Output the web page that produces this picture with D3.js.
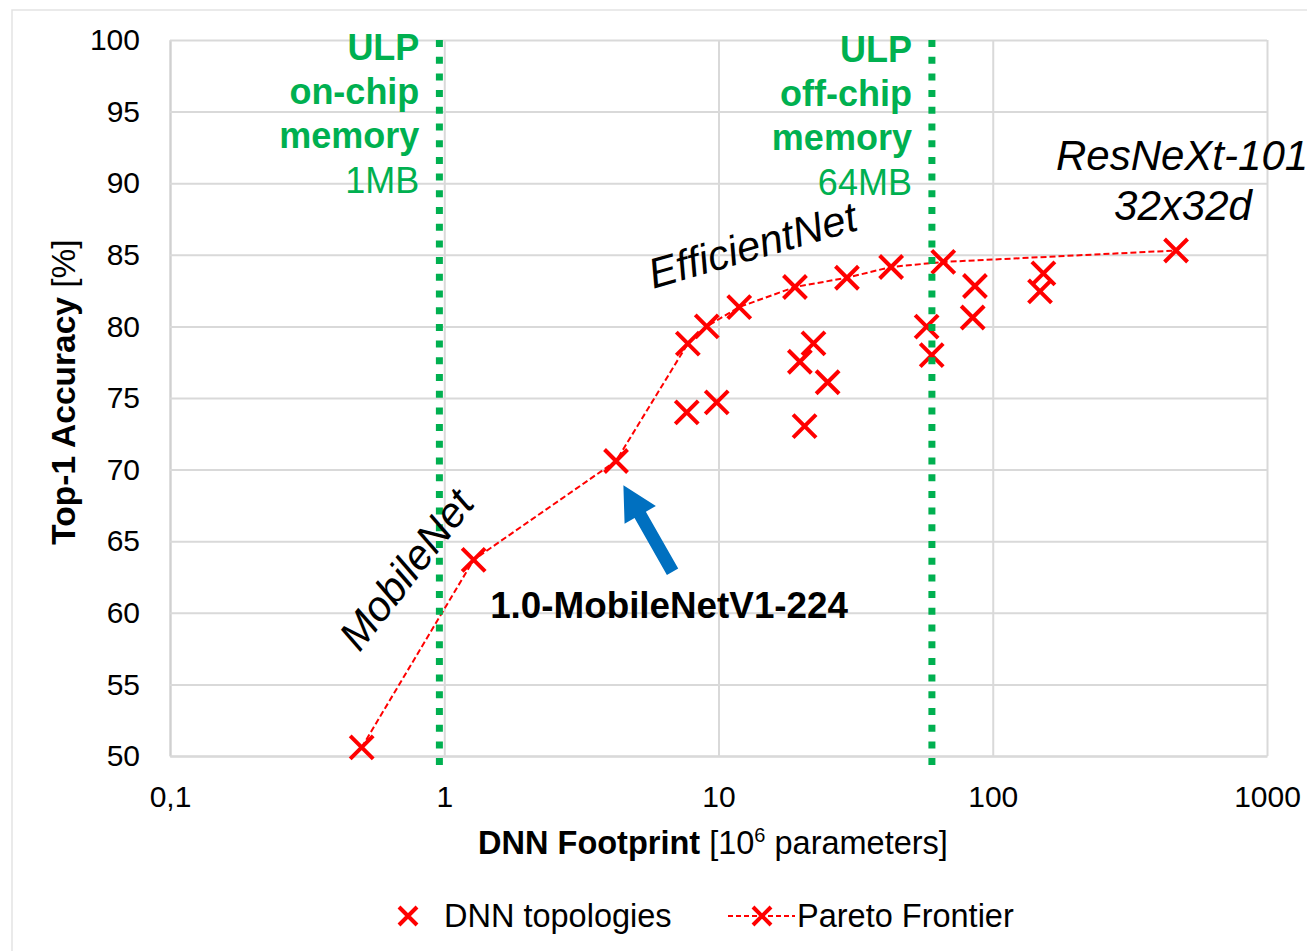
<!DOCTYPE html>
<html>
<head>
<meta charset="utf-8">
<script src="https://cdnjs.cloudflare.com/ajax/libs/d3/7.8.5/d3.min.js"></script>
<style>
body { margin:0; background:#fff; }
svg { display:block; font-family:"Liberation Sans", Arial, Helvetica, sans-serif; }
</style>
</head>
<body>
<svg width="1307" height="951"></svg>
<script>
"use strict";
// footprint in 10^6 parameters, top-1 accuracy in %
var paretoParams = [0.5, 1.28, 4.23, 7.73, 9.06, 11.9, 19.0, 29.4, 42.6, 66, 466];
var paretoAcc    = [50.6, 63.7, 70.6, 78.8, 80.0, 81.35, 82.75, 83.4, 84.15, 84.5, 85.3];

var topoParams = [7.66, 9.85, 22.2, 19.8, 25.0, 20.6, 57.4, 59.9, 86.1, 84.5, 148.7, 153];
var topoAcc    = [74.0, 74.7, 78.82, 77.53, 76.1, 73.04, 79.98, 78.0, 82.82, 80.62, 82.44, 83.7];

var xTicks = [0.1, 1, 10, 100, 1000];
var xTickLabels = ["0,1", "1", "10", "100", "1000"];
var yTicks = [50, 55, 60, 65, 70, 75, 80, 85, 90, 95, 100];

var memLimits = [0.96, 60];
var memLabels = [["ULP", "on-chip", "memory", "1MB"], ["ULP", "off-chip", "memory", "64MB"]];

var red = "#FF0000", green = "#00B050", blue = "#0070C0", grid = "#D9D9D9";

var svg = d3.select("svg");

// outer chart border (cut off at right / bottom like the picture)
svg.append("rect")
  .attr("x", 12).attr("y", 10)
  .attr("width", 1400).attr("height", 1100)
  .attr("fill", "none")
  .attr("stroke", "#E3E3E3")
  .attr("stroke-width", 1.5);

var x = d3.scaleLog().domain([0.1, 1000]).range([170, 1267]);
var y = d3.scaleLinear().domain([50, 100]).range([756, 40]);

var xAxis = svg.append("g")
  .attr("transform", "translate(0," + y(50) + ")")
  .call(d3.axisBottom(x)
    .tickValues(xTicks)
    .tickFormat((d, i) => xTickLabels[i])
    .tickSize(-(y(50) - y(100)))
    .tickSizeOuter(0)
    .tickPadding(30));

var yAxis = svg.append("g")
  .attr("transform", "translate(" + x(0.1) + ",0)")
  .call(d3.axisLeft(y)
    .tickValues(yTicks)
    .tickSize(-(x(1000) - x(0.1)))
    .tickSizeOuter(0)
    .tickPadding(30));

[xAxis, yAxis].forEach(g => {
  g.attr("font-size", 30).attr("font-family", null);
  g.selectAll("line").attr("stroke", grid).attr("stroke-width", 2);
  g.select(".domain").attr("stroke", "#D0D0D0").attr("stroke-width", 2);
  g.selectAll("text").attr("fill", "#000");
});

function cross(s) {
  return "M" + (-s) + "," + (-s) + "L" + s + "," + s + "M" + (-s) + "," + s + "L" + s + "," + (-s);
}

// pareto frontier line
var pareto = paretoParams.map((p, i) => ({p: p, a: paretoAcc[i]}));
var topo = topoParams.map((p, i) => ({p: p, a: topoAcc[i]}));

svg.append("path")
  .datum(pareto)
  .attr("d", d3.line().x(d => x(d.p)).y(d => y(d.a)))
  .attr("fill", "none")
  .attr("stroke", red)
  .attr("stroke-width", 2)
  .attr("stroke-dasharray", "6,3");

svg.append("g").selectAll("path")
  .data(topo.concat(pareto))
  .enter()
  .append("path")
  .attr("d", cross(11.5))
  .attr("transform", d => "translate(" + x(d.p) + "," + y(d.a) + ")")
  .attr("stroke", red)
  .attr("stroke-width", 4)
  .attr("fill", "none");

// memory limits
svg.append("g").selectAll("line")
  .data(memLimits)
  .enter()
  .append("line")
  .attr("x1", d => x(d)).attr("x2", d => x(d))
  .attr("y1", y(100)).attr("y2", y(50) + 9)
  .attr("stroke", green)
  .attr("stroke-width", 7)
  .attr("stroke-dasharray", "7,9.7");

var lineOffsets = [20, 64, 108, 153];
memLabels.forEach((lines, k) => {
  var t = svg.append("text")
    .attr("text-anchor", "end")
    .attr("fill", green)
    .attr("font-size", 36);
  lines.forEach((s, i) => {
    t.append("tspan")
      .attr("x", x(memLimits[k]) - 20)
      .attr("y", y(100) + lineOffsets[i] + k * 2)
      .attr("font-weight", i < 3 ? "bold" : "normal")
      .text(s);
  });
});

// annotations
svg.append("text")
  .attr("transform", "translate(" + x(0.8) + "," + y(62.4) + ") rotate(-52)")
  .attr("text-anchor", "middle")
  .attr("font-style", "italic")
  .attr("font-size", 42)
  .text("MobileNet");

svg.append("text")
  .attr("transform", "translate(" + x(13.76) + "," + y(84.7) + ") rotate(-16)")
  .attr("text-anchor", "middle")
  .attr("font-style", "italic")
  .attr("font-size", 42)
  .text("EfficientNet");

svg.append("text")
  .attr("x", x(490)).attr("y", y(90.9))
  .attr("text-anchor", "middle")
  .attr("font-style", "italic")
  .attr("font-size", 42)
  .text("ResNeXt-101");

svg.append("text")
  .attr("x", x(494)).attr("y", y(87.4))
  .attr("text-anchor", "middle")
  .attr("font-style", "italic")
  .attr("font-size", 42)
  .text("32x32d");

svg.append("text")
  .attr("x", x(1.47)).attr("y", y(59.64))
  .attr("font-weight", "bold")
  .attr("font-size", 36.8)
  .text("1.0-MobileNetV1-224");

// blue arrow pointing at MobileNetV1
var tail = [x(6.8), y(62.87)], tip = [x(4.5), y(68.9)];
var dx = tip[0] - tail[0], dy = tip[1] - tail[1];
var len = Math.sqrt(dx * dx + dy * dy);
var ux = dx / len, uy = dy / len, nx = -uy, ny = ux;
var headLen = 34, headW = 18, shaftW = 6.5;
var bx = tip[0] - ux * headLen, by = tip[1] - uy * headLen;
var arrowPts = [
  [tail[0] + nx * shaftW, tail[1] + ny * shaftW],
  [bx + nx * shaftW, by + ny * shaftW],
  [bx + nx * headW, by + ny * headW],
  tip,
  [bx - nx * headW, by - ny * headW],
  [bx - nx * shaftW, by - ny * shaftW],
  [tail[0] - nx * shaftW, tail[1] - ny * shaftW]
];
svg.append("polygon")
  .attr("points", arrowPts.map(p => p.join(",")).join(" "))
  .attr("fill", blue);

// axis titles
var xt = svg.append("text")
  .attr("x", 713).attr("y", 854)
  .attr("text-anchor", "middle")
  .attr("font-size", 32.5);
xt.append("tspan").attr("font-weight", "bold").text("DNN Footprint ");
xt.append("tspan").text("[10");
xt.append("tspan").attr("font-size", 20).attr("dy", -12).text("6");
xt.append("tspan").attr("dy", 12).text(" parameters]");

var yt = svg.append("text")
  .attr("transform", "translate(75,392) rotate(-90)")
  .attr("text-anchor", "middle")
  .attr("font-size", 33.5);
yt.append("tspan").attr("font-weight", "bold").text("Top-1 Accuracy ");
yt.append("tspan").text("[%]");

// legend
var ly = 916;
svg.append("path")
  .attr("d", cross(9))
  .attr("transform", "translate(408," + ly + ")")
  .attr("stroke", red).attr("stroke-width", 4).attr("fill", "none");
svg.append("text")
  .attr("x", 444).attr("y", ly + 11)
  .attr("font-size", 32.5)
  .text("DNN topologies");

svg.append("line")
  .attr("x1", 728).attr("x2", 795)
  .attr("y1", ly).attr("y2", ly)
  .attr("stroke", red).attr("stroke-width", 2)
  .attr("stroke-dasharray", "5,3");
svg.append("path")
  .attr("d", cross(9))
  .attr("transform", "translate(762," + ly + ")")
  .attr("stroke", red).attr("stroke-width", 4).attr("fill", "none");
svg.append("text")
  .attr("x", 797).attr("y", ly + 11)
  .attr("font-size", 32.5)
  .text("Pareto Frontier");
</script>
</body>
</html>
